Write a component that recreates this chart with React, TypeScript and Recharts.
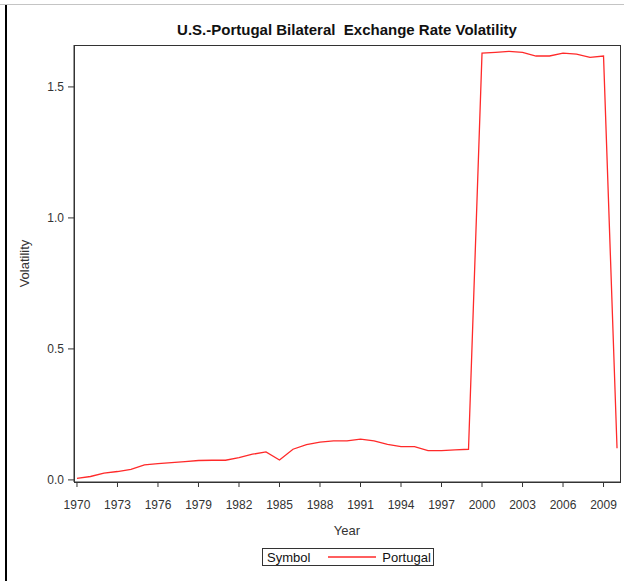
import { LineChart, Line, XAxis, YAxis, Label } from "recharts";

const years = [
  1970, 1971, 1972, 1973, 1974, 1975, 1976, 1977, 1978, 1979, 1980, 1981,
  1982, 1983, 1984, 1985, 1986, 1987, 1988, 1989, 1990, 1991, 1992, 1993,
  1994, 1995, 1996, 1997, 1998, 1999, 2000, 2001, 2002, 2003, 2004, 2005,
  2006, 2007, 2008, 2009, 2010,
];
const portugal = [
  0.006, 0.013, 0.026, 0.032, 0.04, 0.057, 0.062, 0.066, 0.07, 0.074, 0.075,
  0.075, 0.085, 0.098, 0.107, 0.076, 0.117, 0.135, 0.144, 0.149, 0.149, 0.156,
  0.149, 0.136, 0.127, 0.127, 0.112, 0.112, 0.115, 0.117, 1.629, 1.632, 1.636,
  1.632, 1.618, 1.618, 1.629, 1.625, 1.613, 1.618, 0.121,
];
const xTicks = [1970, 1973, 1976, 1979, 1982, 1985, 1988, 1991, 1994, 1997, 2000, 2003, 2006, 2009];
const yTicks = [0, 0.5, 1, 1.5];

const data = years.map((year, i) => ({ year, portugal: portugal[i] }));

const FONT = "'Liberation Sans', Arial, sans-serif";
const RED = "#ff2a2a";
const AXIS = "#333333";
const tick = { fill: "#333333", fontSize: 12, fontFamily: FONT };

export default function App() {
  return (
    <div
      style={{
        position: "absolute",
        left: 0,
        top: 0,
        width: 624,
        height: 581,
        background: "#fff",
        fontFamily: FONT,
      }}
    >
      <div style={{ position: "absolute", left: 0, top: 4, width: 624, height: 1, background: "#c4c4c4" }} />
      <div style={{ position: "absolute", left: 5, top: 5, width: 2, height: 576, background: "#000" }} />
      <div
        style={{
          position: "absolute",
          left: 74,
          width: 546,
          top: 21,
          textAlign: "center",
          fontWeight: "bold",
          fontSize: 15,
          color: "#111",
          whiteSpace: "pre",
        }}
      >
        {"U.S.-Portugal Bilateral  Exchange Rate Volatility"}
      </div>
      <div style={{ position: "absolute", left: 0, top: 0 }}>
        <LineChart
          width={624}
          height={581}
          data={data}
          margin={{ top: 45, right: 4, bottom: 39, left: 10 }}
        >
          <XAxis
            dataKey="year"
            type="number"
            domain={[1969.78, 2010.22]}
            ticks={xTicks}
            allowDataOverflow
            tick={tick}
            tickSize={5}
            tickMargin={13}
            stroke={AXIS}
            height={60}
            interval={0}
          >
            <Label value="Year" position="insideBottom" offset={7} style={{ fill: "#333", fontSize: 13, fontFamily: FONT }} />
          </XAxis>
          <YAxis
            type="number"
            domain={[-0.008, 1.66]}
            ticks={yTicks}
            allowDataOverflow
            tickFormatter={(v: number) => v.toFixed(1)}
            tick={tick}
            tickSize={6}
            tickMargin={4}
            stroke={AXIS}
            width={64}
          >
            <Label
              value="Volatility"
              angle={-90}
              position="insideLeft"
              offset={14}
              style={{ fill: "#333", fontSize: 13, fontFamily: FONT, textAnchor: "middle" }}
            />
          </YAxis>
          <Line
            type="linear"
            dataKey="portugal"
            stroke={RED}
            strokeWidth={1.3}
            dot={false}
            isAnimationActive={false}
          />
        </LineChart>
      </div>
      <div
        style={{
          position: "absolute",
          left: 74,
          top: 45,
          width: 547,
          height: 438,
          border: "1px solid #333",
          boxSizing: "border-box",
          pointerEvents: "none",
        }}
      />
      <div
        style={{
          position: "absolute",
          left: 262,
          top: 548,
          width: 172,
          height: 18,
          border: "1px solid #333",
          boxSizing: "border-box",
          display: "flex",
          alignItems: "center",
          fontSize: 13,
          color: "#111",
        }}
      >
        <span style={{ marginLeft: 4 }}>Symbol</span>
        <svg width={48} height={4} style={{ marginLeft: 18 }}>
          <line x1={0} y1={2} x2={48} y2={2} stroke={RED} strokeWidth={1.3} />
        </svg>
        <span style={{ marginLeft: 6 }}>Portugal</span>
      </div>
    </div>
  );
}
